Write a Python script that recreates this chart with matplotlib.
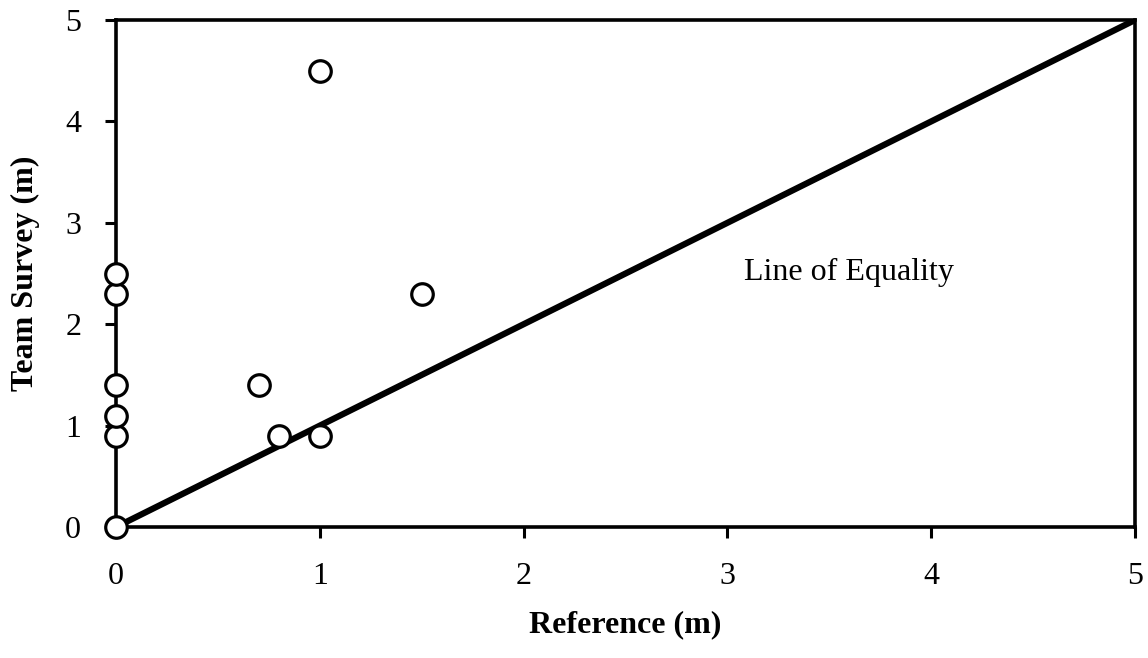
import matplotlib
matplotlib.use("Agg")
import matplotlib.pyplot as plt

# reference vs team survey readings (m)
reference = [0, 0, 0, 0, 0, 0, 0.7, 0.8, 1.0, 1.0, 1.5]
team_survey = [0, 0.9, 1.1, 1.4, 2.3, 2.5, 1.4, 0.9, 0.9, 4.5, 2.3]
equality = [0, 5]
ticks = [0, 1, 2, 3, 4, 5]

plt.rcParams['font.family'] = ['Liberation Serif', 'DejaVu Serif']

fig = plt.figure(figsize=(11.48, 6.58), dpi=100)
ax = fig.add_axes([0.101, 0.199, 0.8877, 0.7706])

ax.plot(equality, equality, color='black', lw=4.5, solid_capstyle='butt', zorder=2)
ax.plot(reference, team_survey, 'o', ms=15.5, mfc='white', mec='black', mew=2.3,
        linestyle='none', zorder=3, clip_on=False)
ax.text(3.08, 2.51, "Line of Equality", fontsize=23, va='center', ha='left')

ax.set_xlim(0, 5)
ax.set_ylim(0, 5)
ax.set_xticks(ticks)
ax.set_yticks(ticks)
ax.tick_params(direction='out', length=8, width=2.2, labelsize=23, pad=17)
for s in ax.spines.values():
    s.set_linewidth(2.6)

ax.set_xlabel("Reference (m)", fontsize=23, fontweight='bold', labelpad=14)
ax.set_ylabel("Team Survey (m)", fontsize=23, fontweight='bold', labelpad=18)

fig.savefig("out.png", dpi=100)
